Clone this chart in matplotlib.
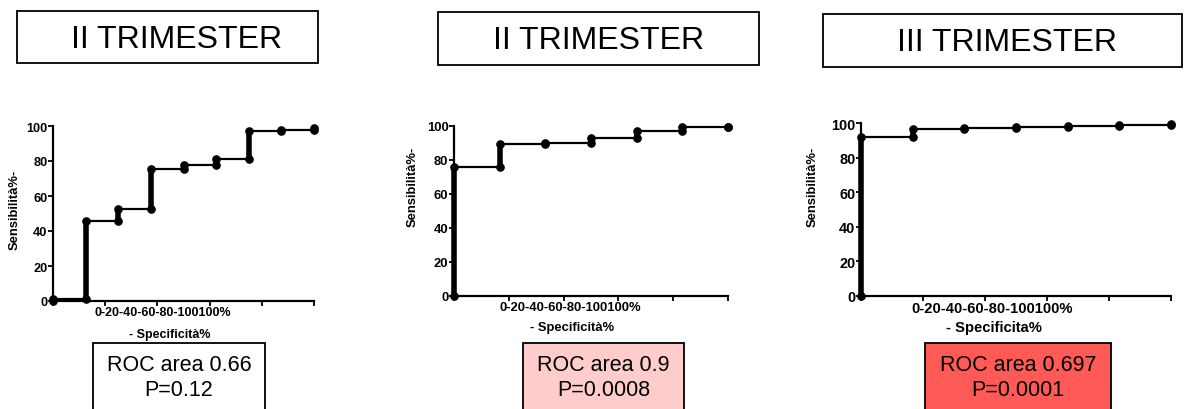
import matplotlib
matplotlib.use("Agg")
import matplotlib.pyplot as plt
from matplotlib.patches import Rectangle

W, H = 1184, 410

# dati (100% - specificità, sensibilità %)
titles = ["II TRIMESTER", "II TRIMESTER", "III TRIMESTER"]
x1 = [0, 12.5, 25, 37.5, 50, 62.5, 75, 87.5, 100]
y1 = [1, 46, 52.5, 75.5, 78, 81, 97.3, 97.8, 98.6]
x2 = [0, 16.7, 33.3, 50, 66.7, 83.3, 100]
y2 = [75.5, 89.5, 89.7, 93, 97, 99, 99.2]
x3 = [0, 16.7, 33.3, 50, 66.7, 83.3, 100]
y3 = [92, 96.5, 97.2, 97.8, 98.5, 99, 99.2]
roc_area = ["0.66", "0.9", "0.697"]
p_value = ["0.12", "0.0008", "0.0001"]
xlabels = ["- Specificità%", "- Specificità%", "- Specificita%"]
ylabel = "Sensibilità%-"
xtick_text = "0-20-40-60-80-100100%"
yticks = [0, 20, 40, 60, 80, 100]
xticks = [0, 20, 40, 60, 80, 100]

FONT = ["Liberation Sans", "DejaVu Sans"]
plt.rcParams["font.family"] = FONT


def fx(px):
    return px / W


def fy(py):
    return 1 - py / H


fig = plt.figure(figsize=(W / 100, H / 100), dpi=100)

# posizione degli assi in pixel: (x0, x1, y_top, y_bottom), dimensioni testo
panels = [
    dict(ax=(53, 314, 127, 302), fs=9.2, lab=9.0, xt=(163, 313), xl=(170, 335), yl=(15, 210)),
    dict(ax=(454, 728, 126.7, 296.7), fs=9.4, lab=9.4, xt=(570, 308), xl=(572, 328), yl=(413, 187)),
    dict(ax=(861, 1171, 124, 296.7), fs=10.4, lab=10.6, xt=(992, 309), xl=(994, 328), yl=(813, 187)),
]
series = [(x1, y1), (x2, y2), (x3, y3)]

for i, (p, (xs, ys)) in enumerate(zip(panels, series)):
    a0, a1, t, b = p["ax"]
    ax = fig.add_axes([fx(a0), fy(b), fx(a1 - a0), (b - t) / H])
    ystart = [0] + ys[:-1]
    ax.step(xs, ys, where="post", color="black", lw=1.6, clip_on=False, zorder=3)
    ax.vlines(xs, ystart, ys, color="black", lw=4, clip_on=False, zorder=4)
    ax.plot(xs, ys, "o", color="black", ms=5.2, clip_on=False, zorder=5)
    ax.plot(xs, ystart, "o", color="black", ms=5.2, clip_on=False, zorder=5)
    ax.set_xlim(0, 100)
    ax.set_ylim(0, 100)
    ax.set_xticks(xticks)
    ax.set_xticklabels([])
    ax.set_yticks(yticks)
    ax.set_yticklabels([str(v) for v in yticks], fontsize=p["fs"], fontweight="bold")
    ax.tick_params(axis="both", length=3.5, width=1.3, pad=0.5, direction="out")
    for s in ["top", "right"]:
        ax.spines[s].set_visible(False)
    for s in ["left", "bottom"]:
        ax.spines[s].set_linewidth(1.6)
    ax.patch.set_alpha(0)

    fig.text(fx(p["xt"][0]), fy(p["xt"][1]), xtick_text, ha="center", va="center",
             fontsize=p["lab"], fontweight="bold")
    fig.text(fx(p["xl"][0]), fy(p["xl"][1]), xlabels[i], ha="center", va="center",
             fontsize=p["lab"], fontweight="bold")
    fig.text(fx(p["yl"][0]), fy(p["yl"][1]), ylabel, ha="center", va="center",
             rotation=90, fontsize=9.4, fontweight="bold")

# riquadri dei titoli
title_boxes = [(17, 318, 12, 64), (438, 759, 13, 66), (823, 1182, 15, 68)]
title_centers = [(177, 40), (599, 41), (1007, 43)]
for (l, r, t, b), (cx, cy), txt in zip(title_boxes, title_centers, titles):
    fig.add_artist(Rectangle((fx(l), fy(b)), fx(r - l), (b - t) / H, transform=fig.transFigure,
                             facecolor="white", edgecolor="black", lw=1.3))
    fig.text(fx(cx), fy(cy), txt, ha="center", va="center", fontsize=23)

# riquadri ROC
roc_boxes = [(93, 265), (523, 684), (925, 1111)]
roc_colors = ["white", "#FFCCCC", "#FF5A55"]
for (l, r), col, area, pv in zip(roc_boxes, roc_colors, roc_area, p_value):
    fig.add_artist(Rectangle((fx(l), fy(420)), fx(r - l), (420 - 344) / H, transform=fig.transFigure,
                             facecolor=col, edgecolor="black", lw=1.3, clip_on=False))
    fig.text(fx((l + r) / 2), fy(378), f"ROC area {area}\nP={pv}", ha="center", va="center",
             fontsize=15.5, linespacing=1.2)

fig.savefig("out.png", dpi=100)
